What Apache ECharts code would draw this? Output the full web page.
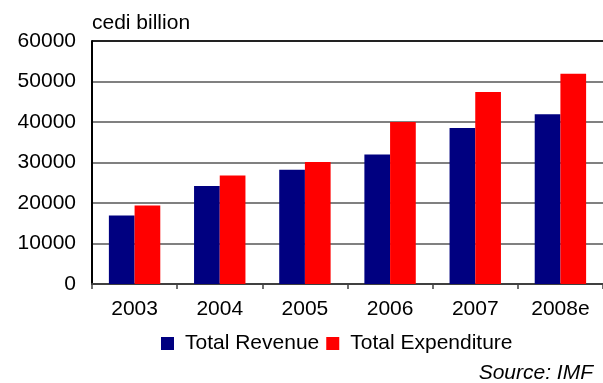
<!DOCTYPE html>
<html>
<head>
<meta charset="utf-8">
<style>
  html, body { margin: 0; padding: 0; background: #fff; }
  #chart { width: 603px; height: 383px; }
</style>
<script src="https://cdn.jsdelivr.net/npm/echarts@6/dist/echarts.min.js"></script>
</head>
<body>
<div id="chart"></div>
<script>
// Ghana fiscal totals, cedi billion
const years = ['2003', '2004', '2005', '2006', '2007', '2008e'];
const totalRevenue = [16900, 24200, 28200, 32000, 38500, 41900];
const totalExpenditure = [19400, 26800, 30100, 40000, 47400, 51900];
const yTicks = { min: 0, max: 60000, interval: 10000 };

const font = '"Liberation Sans", Arial, sans-serif';
const chart = echarts.init(document.getElementById('chart'), null, { renderer: 'canvas' });

chart.setOption({
  animation: false,
  backgroundColor: '#ffffff',
  textStyle: { fontFamily: font, color: '#000' },
  title: [
    {
      text: 'cedi billion',
      left: 92, top: 13, padding: 0,
      textStyle: { fontFamily: font, fontSize: 21, fontWeight: 'normal', color: '#000' }
    },
    {
      text: 'Source: IMF',
      right: 10, top: 363, padding: 0,
      textStyle: { fontFamily: font, fontSize: 21, fontWeight: 'normal', fontStyle: 'italic', color: '#000' }
    }
  ],
  legend: {
    left: 161, top: 333, padding: 0,
    itemWidth: 13, itemHeight: 13, itemGap: 7,
    icon: 'rect',
    textStyle: { fontFamily: font, fontSize: 21, color: '#000', padding: [0, 0, 0, 6] },
    data: ['Total Revenue', 'Total Expenditure']
  },
  grid: { left: 92, top: 41, right: -2, bottom: 99, containLabel: false },
  xAxis: {
    type: 'category',
    data: years,
    boundaryGap: true,
    axisLine: { show: true, lineStyle: { color: '#404040', width: 2 } },
    axisTick: { show: true, length: 5, lineStyle: { color: '#404040', width: 1.5 } },
    axisLabel: { fontFamily: font, fontSize: 21, color: '#000', margin: 15 },
    splitLine: { show: false }
  },
  yAxis: {
    type: 'value',
    min: yTicks.min, max: yTicks.max, interval: yTicks.interval,
    axisLine: { show: true, lineStyle: { color: '#000', width: 2 } },
    axisTick: { show: false },
    axisLabel: {
      fontFamily: font, fontSize: 21, color: '#000', margin: 16,
      formatter: (v) => String(v)
    },
    splitLine: {
      show: true,
      lineStyle: {
        color: ['#808080', '#808080', '#808080', '#808080', '#808080', '#808080', '#222222'],
        width: 2
      }
    }
  },
  series: [
    {
      name: 'Total Revenue',
      type: 'bar',
      data: totalRevenue,
      barWidth: 25.7,
      barGap: '0%',
      itemStyle: { color: '#000080' }
    },
    {
      name: 'Total Expenditure',
      type: 'bar',
      data: totalExpenditure,
      barWidth: 25.7,
      barGap: '0%',
      itemStyle: { color: '#ff0000' }
    }
  ]
});
</script>
</body>
</html>
